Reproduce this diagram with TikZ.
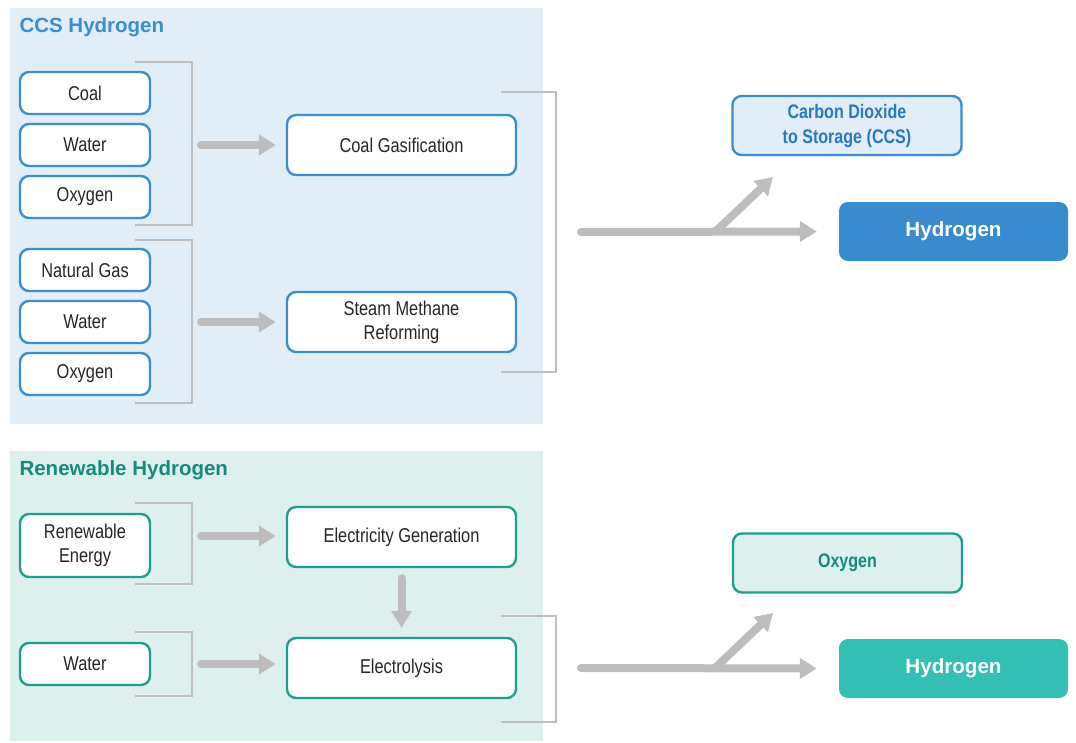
\documentclass[tikz,border=0pt]{standalone}
\usepackage{fontspec}
\setmainfont{Liberation Sans}
\newfontfamily\condfont{Liberation Sans}[FakeStretch=0.82]
\usetikzlibrary{positioning,calc,arrows.meta}

\begin{document}
\begin{tikzpicture}[
    x=1pt,
    y=-1pt,
    >=Latex,
    label/.style={font=\condfont\fontsize{20}{24}\selectfont, align=center, text=black!85},
    inbox/.style={label, draw, line width=2.4pt, rounded corners=9pt, fill=white, minimum width=130pt, minimum height=42pt, inner sep=0pt},
    procbox/.style={inbox, minimum width=229pt, minimum height=60pt},
    outbox/.style={draw, line width=2.4pt, rounded corners=9pt, minimum width=229pt, minimum height=59pt, inner sep=0pt, align=center, font=\condfont\bfseries\fontsize{19.6}{25}\selectfont},
    hbox/.style={rounded corners=9pt, minimum width=229pt, minimum height=59pt, inner sep=0pt, text=white, font=\bfseries\fontsize{20.6}{24}\selectfont},
    title/.style={font=\bfseries\fontsize{20.5}{24}\selectfont, anchor=west},
    flow/.style={draw=flowgray, line width=8pt, line cap=round, -{Triangle[width=20pt,length=17pt]}},
    bracket/.style={draw=black!25, line width=1.2pt}
]

\definecolor{ccsblue}{HTML}{3A8DD0}
\definecolor{ccsdark}{HTML}{2A78C0}
\definecolor{ccsbg}{HTML}{E1EEF8}
\definecolor{ccsfill}{HTML}{3A8ACE}
\definecolor{rnwteal}{HTML}{1E9E8F}
\definecolor{rnwdark}{HTML}{168A7C}
\definecolor{rnwbg}{HTML}{DDF0EE}
\definecolor{rnwfill}{HTML}{33BFB3}
\definecolor{flowgray}{HTML}{BDBDBD}

\useasboundingbox (0,0) rectangle (1076,742);

% Panels
\fill[ccsbg] (10,8) rectangle (543,424);
\fill[rnwbg] (10,451) rectangle (543,741);
\node[title, text=ccsblue] (ccst) at (16,27) {CCS Hydrogen};
\node[title, text=rnwdark] (rnwt) at (16,470) {Renewable Hydrogen};

% CCS inputs
\foreach \name/\y/\txt in {coal/93/Coal, wa/145/Water, oxa/197/Oxygen,
                           ngas/270/Natural Gas, wb/322/Water, oxb/374/Oxygen}{
    \node[inbox, draw=ccsblue] (\name) at (85,\y) {\txt};
}
\node[procbox, draw=ccsblue] (cg) at (401.5,145) {Coal Gasification};
\node[procbox, draw=ccsblue] (smr) at (401.5,322) {Steam Methane\\Reforming};

\draw[bracket] (135,62) -| (192,225) -- (135,225);
\draw[bracket] (135,240) -| (192,403) -- (135,403);
\draw[bracket] (501,92) -| (556,372) -- (501,372);
\coordinate (ba) at (192,145);
\coordinate (bb) at (192,322);

\draw[flow, shorten <=9pt, shorten >=10pt] (ba) -- (cg.west);
\draw[flow, shorten <=9pt, shorten >=10pt] (bb) -- (smr.west);

% CCS outputs
\node[outbox, draw=ccsblue, fill=ccsbg, text=ccsdark] (co2) at (847,125.5) {Carbon Dioxide\\to Storage (CCS)};
\node[hbox, fill=ccsfill] (ha) at (953.5,231.5) {Hydrogen};
\coordinate (outa) at (581,232);
\coordinate (splita) at (715,232);
\coordinate (tipa) at (773,177);
\draw[flow, shorten >=22pt] (outa) -- (ha.west);
\draw[flow, line cap=butt] (splita) -- (tipa);

% Renewable inputs
\node[inbox, draw=rnwteal, minimum height=63pt] (ren) at (85,545.5) {Renewable\\Energy};
\node[inbox, draw=rnwteal] (wc) at (85,664) {Water};
\node[procbox, draw=rnwteal] (eg) at (401.5,537) {Electricity Generation};
\node[procbox, draw=rnwteal] (ely) at (401.5,668) {Electrolysis};

\draw[bracket] (135,503) -| (192,584) -- (135,584);
\draw[bracket] (135,632) -| (192,696) -- (135,696);
\draw[bracket] (501,616) -| (556,722) -- (501,722);
\coordinate (bc) at (192,536);
\coordinate (bd) at (192,664);

\draw[flow, shorten <=9pt, shorten >=10pt] (bc) -- (bc -| eg.west);
\draw[flow, shorten <=9pt, shorten >=10pt] (bd) -- (bd -| ely.west);
\draw[flow, shorten <=10pt, shorten >=9pt] (eg) -- (ely);

% Renewable outputs
\node[outbox, draw=rnwteal, fill=rnwbg, text=rnwdark] (oxc) at (847.5,563) {Oxygen};
\node[hbox, fill=rnwfill] (hb) at (953.5,668.5) {Hydrogen};
\coordinate (outb) at (581,668);
\coordinate (splitb) at (715,668);
\coordinate (tipb) at (773,613);
\draw[flow, shorten >=22pt] (outb) -- (hb.west);
\draw[flow, line cap=butt] (splitb) -- (tipb);

\end{tikzpicture}
\end{document}
